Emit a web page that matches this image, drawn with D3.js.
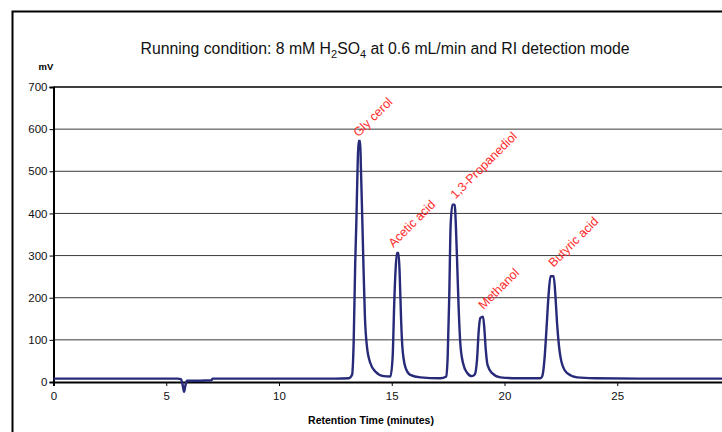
<!DOCTYPE html>
<html><head><meta charset="utf-8">
<script src="https://cdn.jsdelivr.net/npm/d3@7"></script>
<style>html,body{margin:0;padding:0;background:#fff;} svg{display:block;font-family:Arial,"Liberation Sans",sans-serif;}</style>
</head><body>
<svg id="c" width="722" height="432"></svg>
<script>
// Retention time (minutes)
const time = [0, 2, 4, 5.5, 5.65, 5.72, 5.79, 5.85, 5.92, 6.0, 6.5, 7.0, 7.05, 9, 11, 12.5, 13.1, 13.24, 13.31, 13.38, 13.43, 13.49, 13.53, 13.6, 13.63, 13.69, 13.75, 13.81, 13.9, 14.05, 14.27, 14.64, 14.94,
  15.04, 15.11, 15.17, 15.23, 15.3, 15.35, 15.41, 15.47, 15.6, 15.82, 16.27, 17.15, 17.42,
  17.48, 17.55, 17.61, 17.69, 17.79, 17.85, 17.91, 17.97, 18.04, 18.16, 18.34, 18.55, 18.68,
  18.78, 18.86, 18.93, 19.05, 19.11, 19.17, 19.25, 19.45, 19.82, 20.6, 21.59, 21.67,
  21.77, 21.86, 21.95, 22.04, 22.18, 22.26, 22.33, 22.42, 22.54, 22.78, 23.22, 24, 26, 28, 30];
// Detector signal (mV)
const signal = [8, 8, 8, 8, 7, -5, -23, -8, 3, 3, 3, 4, 8, 8, 8, 8, 9, 17, 92, 283, 378, 521, 572, 572, 513, 394, 267, 155, 84, 45, 25, 14, 13,
  60, 187, 267, 306, 306, 259, 155, 84, 36, 17, 11, 9, 13,
  60, 203, 370, 421, 421, 362, 267, 171, 92, 45, 22, 14, 18,
  52, 124, 152, 155, 124, 76, 40, 21, 11, 9, 9, 13,
  52, 124, 203, 251, 251, 203, 140, 84, 45, 21, 11, 9, 8, 8, 8];

const peakNames = ["Gly cerol", "Acetic acid", "1,3-Propanediol", "Methanol", "Butyric acid"];
const peakTimes = [13.7, 15.25, 18.0, 19.25, 22.35];
const peakHeights = [580, 318, 433, 171, 271];

const xTicks = [0, 5, 10, 15, 20, 25];
const yTicks = [0, 100, 200, 300, 400, 500, 600, 700];

const svg = d3.select("#c");
const L = 53.5, R = 730, T = 87, B = 382;
const x = d3.scaleLinear().domain([0, 30]).range([L, R]);
const y = d3.scaleLinear().domain([0, 700]).range([B, T]);

// outer frame
svg.append("rect").attr("x", 12.5).attr("y", 11.5).attr("width", 760).attr("height", 460)
  .attr("fill", "none").attr("stroke", "#000").attr("stroke-width", 2);

// title
const title = svg.append("text").attr("x", 385).attr("y", 54).attr("text-anchor", "middle")
  .attr("font-size", 15.8).attr("fill", "#111");
title.append("tspan").text("Running condition: 8 mM H");
title.append("tspan").attr("font-size", 11).attr("dy", 4).text("2");
title.append("tspan").attr("dy", -4).text("SO");
title.append("tspan").attr("font-size", 11).attr("dy", 4).text("4");
title.append("tspan").attr("dy", -4).text(" at 0.6 mL/min and RI detection mode");

// gridlines
svg.append("g").selectAll("line").data(yTicks.filter(d => d > 0 && d < 700)).join("line")
  .attr("x1", L).attr("x2", R).attr("y1", d => y(d)).attr("y2", d => y(d))
  .attr("stroke", "#3a3a3a").attr("stroke-width", 1);
// plot top border
svg.append("line").attr("x1", L).attr("x2", R).attr("y1", y(700)).attr("y2", y(700))
  .attr("stroke", "#000").attr("stroke-width", 1.5);

// axes
const yAxis = d3.axisLeft(y).tickValues(yTicks).tickSize(4).tickPadding(2);
const gy = svg.append("g").attr("transform", `translate(${L},0)`).call(yAxis);
gy.select(".domain").attr("stroke-width", 2);
gy.selectAll("text").attr("font-size", 11.5).attr("font-family", "Arial, 'Liberation Sans', sans-serif").attr("fill", "#111");

const xAxis = d3.axisBottom(x).tickValues(xTicks).tickSize(4).tickPadding(6);
const gx = svg.append("g").attr("transform", `translate(0,${B})`).call(xAxis);
gx.select(".domain").attr("stroke-width", 2);
gx.selectAll("text").attr("font-size", 11.5).attr("font-family", "Arial, 'Liberation Sans', sans-serif").attr("fill", "#111");

// axis titles
svg.append("text").attr("x", 46).attr("y", 70).attr("text-anchor", "middle")
  .attr("font-size", 9.5).attr("font-weight", "bold").text("mV");
svg.append("text").attr("x", 371).attr("y", 424).attr("text-anchor", "middle")
  .attr("font-size", 10.5).attr("font-weight", "bold").text("Retention Time (minutes)");

// trace
const line = d3.line().x((d, i) => x(time[i])).y((d, i) => y(signal[i])).curve(d3.curveMonotoneX);
svg.append("path").datum(signal).attr("d", line).attr("fill", "none")
  .attr("stroke", "#262a78").attr("stroke-width", 2.4).attr("stroke-linejoin", "round");

// peak labels
svg.append("g").selectAll("text").data(peakNames).join("text")
  .attr("transform", (d, i) => `translate(${x(peakTimes[i]) - 4},${y(peakHeights[i])}) rotate(-45)`)
  .attr("font-size", 12.5).attr("fill", "#ff2a2a").text(d => d);
</script>
</body></html>
